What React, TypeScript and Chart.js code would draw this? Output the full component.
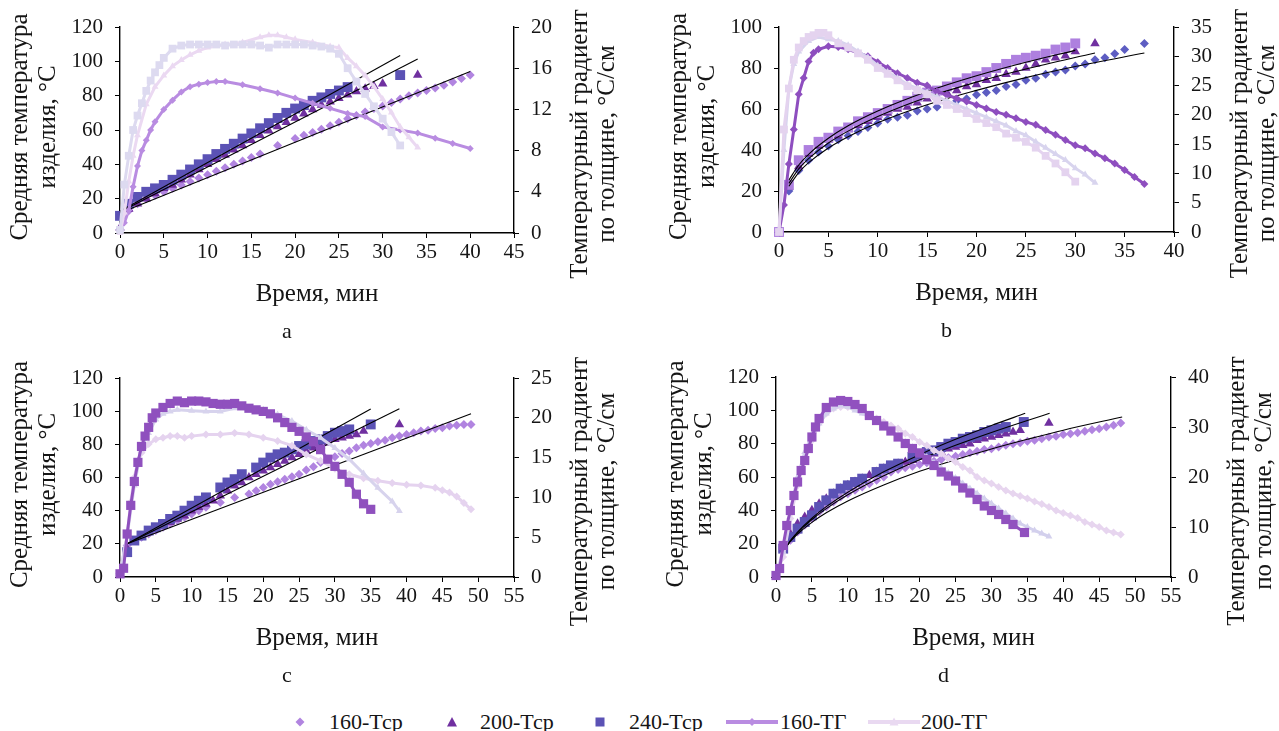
import React, { useEffect, useRef } from "react";
import { Chart, registerables } from "chart.js";

Chart.register(...registerables);

type Pts = [number, number][];

const FONT = "\"Liberation Serif\", \"DejaVu Serif\", serif";
const INK = "#151515";

// ---------- shared labels ----------
const leftTitle = ["Средняя температура", "изделия, °С"];
const rightTitle = ["Температурный градиент", "по толщине, °С/см"];
const xTitle = "Время, мин";
const seriesNames = ["160-Тср", "200-Тср", "240-Тср", "160-ТГ", "200-ТГ", "240-ТГ"];

// ---------- panel a ----------
const aTsr160: Pts = [[0,2],[1,13],[2,17],[3,20],[4,22],[5,24],[6,26],[7,28],[8,30],[9,32],[10,34],[11,36],[12,38],[13,40],[14,42],[15,44],[16,46],[18,51],[20,55],[21,57],[22,58.5],[23,60.5],[24,62.5],[25,64.5],[26,66.5],[27,68.5],[28,70.5],[29,72.5],[30,74],[31,76],[32,78],[33,80],[34,81.5],[35,83],[36,84.5],[37,86],[38,88],[39,90],[40,92]];
const aTsr200: Pts = [[0,3],[1,14],[2,17],[3,20],[4,23],[5,26],[6,28],[7,31],[8,34],[9,37],[10,40],[11,43],[12,45.5],[13,48.5],[14,51],[15,54],[16,57],[17,59.5],[18,62],[19,64.5],[20,67],[21,69.5],[22,72],[23,74.5],[24,76.5],[25,78.5],[26,80.5],[27,82.5],[28,84],[29,85.5],[30,87],[34,92]];
const aTsr240: Pts = [[0,10],[1,17],[2,21],[3,24],[4,26],[5,28],[6,31],[7,34],[8,37],[9,40],[10,43],[11,46],[12,49],[13,52],[14,55],[15,58],[16,61],[17,64],[18,67],[19,70],[20,72.5],[21,74.5],[22,77],[23,79],[24,81],[25,83],[26,85],[32,92]];
const aTg160: Pts = [[0,0.2],[0.5,1],[1,2.2],[1.5,4.5],[2,6.5],[2.5,8],[3,9],[3.5,10],[4,10.8],[5,12],[6,12.9],[7,13.7],[8,14.2],[9,14.45],[10,14.6],[11,14.7],[12,14.7],[14,14.4],[16,14],[18,13.6],[20,13.1],[22,12.6],[24,12.1],[26,11.6],[28,11.3],[30,10.3],[32,10],[34,9.7],[36,9.2],[38,8.7],[40,8.2]];
const aTg200: Pts = [[0,0],[0.5,2],[1,5],[1.5,7.5],[2,9.5],[3,12.5],[4,14.2],[5,15.3],[6,16.2],[7,16.8],[8,17.3],[9,17.7],[10,18],[12,18.3],[14,18.5],[16,19],[17,19.2],[18,19.2],[19,19],[20,18.8],[22,18.5],[24,18.1],[25,18],[26,17],[27,16.2],[28,15.3],[29,14.2],[30,13],[31,11.7],[32,10.3],[33,9.3],[34,8.3]];
const aTg240: Pts = [[0,0.3],[0.5,4.7],[1,7.5],[1.5,10],[2,11.4],[2.5,12.6],[3,13.8],[3.5,14.8],[4,15.6],[4.5,16.3],[5,17],[6,17.9],[7,18.2],[8,18.3],[9,18.3],[10,18.3],[11,18.3],[12,18.2],[13,18.3],[14,18.3],[15,18.3],[16,18.2],[17,18],[18,18.3],[19,18.3],[20,18.3],[21,18.3],[22,18.2],[23,18.1],[24,17.9],[25,17.4],[26,16],[27,14.7],[28,13.5],[29,12.3],[30,11.1],[31,9.8],[32,8.5]];
const aTrend160: Pts = [[0,11.7],[40,94.1]];
const aTrend200: Pts = [[0,12.2],[34,101.3]];
const aTrend240: Pts = [[0,12.7],[32,103.4]];

// ---------- panel b ----------
const bTsr160: Pts = [[1,20],[2,30],[3,35],[4,39],[5,42],[6,45],[7,47],[8,49],[9,51],[10,53],[11,55],[12,56],[13,57],[14,59],[15,60],[16,61],[17,63],[18,64],[19,65],[20,67],[21,68],[22,69],[23,71],[24,72],[25,74],[26,75],[27,77],[28,78],[29,79],[30,81],[31,82],[32,84],[33,85],[34,87],[35,89],[37,92]];
const bTsr200: Pts = [[1,22],[2,32],[3,38],[4,42],[5,45],[6,47],[7,50],[8,52],[9,54],[10,56],[11,58],[12,60],[13,61],[14,63],[15,65],[16,66],[17,68],[18,69],[19,71],[20,72],[21,74],[22,75],[23,77],[24,78],[25,80],[26,82],[27,84],[28,85],[29,86],[30,88],[32,92]];
const bTsr240: Pts = [[0,0],[1,23],[2,35],[3,40],[4,44],[5,46],[6,49],[7,51],[8,54],[9,56],[10,58],[11,60],[12,62],[13,64],[14,66],[15,68],[16,69],[17,71],[18,73],[19,75],[20,76],[21,78],[22,80],[23,82],[24,84],[25,85],[26,86],[27,87],[28,89],[29,90],[30,92]];
const bTg160: Pts = [[0,0],[0.5,4.6],[1,11.6],[1.5,17.5],[2,23.5],[2.5,26.3],[3,29.1],[3.5,30.6],[4,31.2],[5,31.7],[6,31.6],[7,31.2],[8,30.6],[9,30],[10,29],[11,28],[12,27.1],[13,26.3],[14,25.5],[15,25],[16,24],[17,23.4],[18,22.8],[19,22.3],[20,21.7],[21,21.1],[22,20.5],[23,20],[24,19.4],[25,18.8],[26,18.3],[27,17.4],[28,16.6],[29,15.7],[30,14.8],[31,14.3],[32,13.4],[33,12.6],[34,11.7],[35,10.6],[36,9.4],[37,8.2]];
const bTg200: Pts = [[0,0],[0.5,14],[1,24.5],[1.5,28.7],[2,30.8],[3,32.6],[4,33.3],[5,32.9],[6,32.6],[7,31.9],[8,30.8],[9,29.8],[10,28.4],[11,27.3],[12,26.3],[13,25.2],[14,24.5],[15,23.8],[16,23.1],[17,22.4],[18,21.7],[19,21],[20,20.3],[21,19.6],[22,18.9],[23,18.2],[24,17.2],[25,16.5],[26,15.4],[27,14.4],[28,13.3],[29,12.3],[30,10.9],[31,9.8],[32,8.4]];
const bTg240: Pts = [[0,0],[0.5,17.5],[1,24.5],[1.5,29.4],[2,31.5],[2.5,32.6],[3,33.3],[3.5,33.6],[4,34],[4.5,34],[5,33.6],[6,32.2],[7,31.5],[8,30.5],[9,29.4],[10,28],[11,27],[12,25.9],[13,24.9],[14,24.2],[15,23.5],[16,22.4],[17,21.7],[18,21],[19,20.3],[20,19.3],[21,18.6],[22,17.9],[23,16.8],[24,16.1],[25,15.4],[26,14.4],[27,13],[28,11.7],[29,10.2],[30,8.6]];
const bTrend160: Pts = [[1,22.3],[2,29],[3,33.8],[5,41],[7,46.5],[10,53.3],[15,62.1],[20,69.1],[25,75.3],[30,80.7],[37,87.3]];
const bTrend200: Pts = [[1,23.7],[2,30.8],[3,35.8],[5,43.4],[7,49.2],[10,56.3],[15,65.7],[20,73.1],[25,79.5],[32,87.3]];
const bTrend240: Pts = [[1,25.3],[2,32.7],[3,37.9],[5,45.7],[7,51.8],[10,59],[15,68.5],[20,76.2],[25,82.8],[30,88.6]];

// ---------- panel c ----------
const cTsr160: Pts = [[0,2],[1,19],[2,22],[3,24],[4,26],[5,28],[6,30],[7,32],[8,34],[9,36],[10,38],[11,40],[12,42],[14,45],[16,48],[18,50],[19,52],[20,54],[21,56],[22,57.5],[23,59],[24,60.5],[25,62],[26,64.5],[27,66.5],[28,69],[29,71],[30,72.5],[31,74.5],[32,76],[33,78],[34,79.5],[35,80.5],[36,81.5],[37,82.5],[38,84],[39,85],[40,86],[41,87],[42,88],[43,88.5],[44,89.5],[45,90],[46,91],[47,91.5],[48,92],[49,92]];
const cTsr200: Pts = [[1,17],[2,21],[3,24],[4,27],[5,29],[6,31],[7,33],[8,35],[9,37],[10,40],[11,42],[12,44],[13,46],[14,49],[15,52],[16,55],[17,57],[18,60],[19,62],[20,64],[21,66],[22,68],[23,70],[24,72],[25,74],[26,76],[27,78],[28,79],[29,81],[30,83],[31,84],[32,85],[33,86],[34,88],[39,92]];
const cTsr240: Pts = [[1,15],[2,22],[3,25],[4,28],[5,30],[6,32],[7,35],[8,37],[9,40],[10,43],[11,46],[12,48],[14,54],[15,57],[16,59],[17,62],[19,66],[20,69],[21,72],[22,74],[23,75],[24,77],[25,79],[26,80],[27,82],[28,83],[29,85],[30,87],[31,88],[32,89],[35,92]];
const cTg160: Pts = [[0,0.4],[1,5.2],[1.5,9.4],[2,12.5],[2.5,14.6],[3,15.6],[4,16.7],[5,17.3],[6,17.5],[7,17.7],[8,17.7],[9,17.5],[10,17.7],[12,17.9],[14,17.9],[16,18.1],[18,17.9],[20,17.5],[22,17.1],[24,16.5],[26,15.4],[28,14.6],[30,13.6],[32,12.9],[34,12.4],[36,12.1],[38,11.8],[40,11.6],[42,11.5],[44,11.2],[45,10.9],[46,10.6],[47,10.1],[48,9.3],[49,8.5]];
const cTg200: Pts = [[0,0.4],[1,5.2],[2,11.5],[3,16.2],[4,18.1],[5,19.8],[6,20.5],[7,20.8],[8,21],[10,20.9],[12,20.8],[14,20.8],[16,21.2],[18,21.2],[20,21],[22,20.4],[24,19.6],[26,18.5],[28,17.5],[30,16.2],[32,14.8],[34,13],[36,11.2],[38,9.5],[39,8.3]];
const cTg240: Pts = [[0,0.4],[0.5,1.1],[1,5.4],[1.5,9],[2,12],[2.5,14.4],[3,16.4],[3.5,17.7],[4,18.8],[4.5,20],[5,20.6],[6,21.3],[7,21.8],[8,22.1],[9,21.9],[10,22.1],[11,22.1],[12,22],[13,21.8],[14,21.7],[15,21.7],[16,21.8],[17,21.5],[18,21.2],[19,21],[20,20.8],[21,20.5],[22,20],[23,19.4],[24,18.8],[25,18.3],[26,17.6],[27,17],[28,16],[29,14.8],[30,13.9],[31,12.9],[32,11.9],[33,10.4],[34,9.2],[35,8.5]];
const cTrend160: Pts = [[1,20.1],[49,98.5]];
const cTrend200: Pts = [[1,20.1],[39,101.5]];
const cTrend240: Pts = [[1,20.1],[35,101.3]];

// ---------- panel d ----------
const dTsr160: Pts = [[1,15],[2,22],[3,27],[4,31],[5,35],[6,39],[7,42],[8,45],[9,48],[10,50],[11,52],[12,54],[13,56],[14,58],[15,60],[16,63],[17,64.5],[18,65.5],[19,66.5],[20,67.5],[21,68.5],[22,69.5],[23,70.5],[24,71.5],[25,72.5],[26,73.5],[27,74.5],[28,75.5],[29,76.5],[30,77],[31,78],[32,79],[33,80],[34,80.5],[35,81.5],[36,82],[37,83],[38,84],[39,84.5],[40,85.5],[41,86],[42,86.5],[43,87.5],[44,88.4],[45,89],[46,90],[47,91],[48,92.4]];
const dTsr200: Pts = [[1,17],[2,26],[3,32],[4,36],[5,40],[6,44],[7,47],[8,50],[9,53],[10,55],[11,57],[12,59],[13,61],[14,63],[15,65],[16,66],[17,68],[18,69],[19,70],[20,72],[21,73],[22,74],[23,75],[24,77],[25,78],[26,79],[27,80],[28,82],[29,83],[30,84],[31,85],[32,86],[33,87],[34,88],[38,92.4]];
const dTsr240: Pts = [[1,17],[2,24],[3,29],[4,33],[5,37],[6,42],[7,46],[8,50],[9,53],[10,55],[11,57],[12,59],[14,63],[15,65],[16,67],[17,68],[19,72],[20,74],[21,75],[22,76],[23,78],[24,80],[25,81],[26,83],[27,84],[28,85],[29,87],[30,88],[31,89],[32,90],[34.5,93]];
const dTg160: Pts = [[0,0.7],[1,4],[2,11.7],[3,18.3],[4,23.3],[5,27.3],[6,30.7],[7,32.7],[8,33.7],[9,34],[10,34],[11,33.7],[12,33],[13,32.3],[14,31.7],[15,31],[16,30.3],[17,29.7],[18,28.7],[19,28],[20,27],[21,26.3],[22,25.3],[23,24.7],[24,23.7],[25,23],[26,22],[27,21.3],[28,20],[29,19.3],[30,18.7],[31,18],[32,17.3],[33,16.7],[34,16.2],[35,15.7],[36,15.1],[37,14.6],[38,14],[39,13.3],[40,12.8],[41,12.3],[42,11.8],[43,11],[44,10.5],[45,10],[46,9.3],[47,8.9],[48,8.5]];
const dTg200: Pts = [[0,0.7],[1,5],[2,13.3],[3,20],[4,25],[5,28.3],[6,30.7],[7,32.7],[8,33.7],[9,34.3],[10,34],[11,33.3],[12,32.7],[13,32],[14,31],[15,30.3],[16,29.3],[17,28],[18,27],[19,26],[20,25],[21,24],[22,22.8],[23,21.8],[24,20.8],[25,19.8],[26,18.7],[27,17.7],[28,16.7],[29,15.7],[30,14.7],[31,13.7],[32,12.7],[33,11.7],[34,10.7],[35,10],[36,9.3],[37,8.7],[38,8.1]];
const dTg240: Pts = [[0,0.3],[0.5,1.7],[1,6.3],[1.5,10.3],[2,13.3],[2.5,16.3],[3,19],[3.5,21.3],[4,23.3],[4.5,25.7],[5,28],[5.5,30],[6,31.7],[7,33.9],[8,35],[9,35.3],[10,35.1],[11,34.5],[12,33.7],[13,32.3],[14,31.3],[15,30.2],[16,29.2],[17,28],[18,26.7],[19,25.7],[20,24.8],[21,23.5],[22,22.3],[23,21],[24,20.2],[25,19.2],[26,17.8],[27,16.8],[28,15.5],[29,14.2],[30,13.3],[31,12.5],[32,11.5],[33,10.5],[34.6,8.9]];
const dTrend160: Pts = [[1.25,17],[2,21.3],[3,25.8],[5,32.8],[7,38.5],[10,45.6],[15,55.2],[20,63.4],[25,70.4],[30,76.8],[35,82.6],[40,88.1],[48.2,96]];
const dTrend200: Pts = [[1.25,16.9],[2,21.6],[3,26.6],[5,34.5],[7,41],[10,49.3],[15,60.7],[20,70.4],[25,79],[30,86.7],[35,93.9],[38.1,98.2]];
const dTrend240: Pts = [[1.25,17],[2,21.8],[3,27],[5,35.3],[7,42.2],[10,50.9],[15,63.1],[20,73.4],[25,82.6],[30,90.9],[34.7,98.2]];

// ---------- axis ranges ----------
const aAxes = { xMax: 45, yMax: 120, yStep: 20, y1Max: 20, y1Step: 2 };
const bAxes = { xMax: 40, yMax: 100, yStep: 20, y1Max: 35, y1Step: 5 };
const cAxes = { xMax: 55, yMax: 120, yStep: 20, y1Max: 25, y1Step: 5 };
const dAxes = { xMax: 55, yMax: 120, yStep: 20, y1Max: 40, y1Step: 5 };

// ---------- colours ----------
const C_T160 = "#B184E0";
const C_T200 = "#7030A0";
const C_T240 = "#5B52B5";

const toXY = (p: Pts) => p.map(([x, y]) => ({ x, y }));

function scat(label: string, pts: Pts, style: string, color: string, r: number, order: number) {
  return {
    label, data: toXY(pts), yAxisID: "y", showLine: false, pointStyle: style,
    pointRadius: r, pointBackgroundColor: color, pointBorderColor: color, pointBorderWidth: 0,
    order, clip: false,
  };
}
function tgLine(label: string, pts: Pts, style: string, color: string, r: number, order: number) {
  return {
    label, data: toXY(pts), yAxisID: "y1", showLine: true, borderColor: color, borderWidth: 3,
    pointStyle: style, pointRadius: r, pointBackgroundColor: color, pointBorderColor: color,
    pointBorderWidth: 0, tension: 0, order, clip: false,
  };
}
function trend(pts: Pts, curved: boolean) {
  return {
    label: "trend", data: toXY(pts), yAxisID: "y", showLine: true, borderColor: "#000",
    borderWidth: 1.1, pointRadius: 0, tension: curved ? 0.4 : 0,
    cubicInterpolationMode: curved ? "monotone" : "default", order: 3, clip: false,
  };
}

const textPlugin = {
  id: "panelText",
  afterDraw(chart: any, _a: any, o: any) {
    const ca = chart.chartArea;
    const ctx = chart.ctx;
    const cx = (ca.left + ca.right) / 2;
    const cy = (ca.top + ca.bottom) / 2;
    ctx.save();
    ctx.fillStyle = INK;
    ctx.textAlign = "center";
    ctx.textBaseline = "middle";
    ctx.font = `${o.titleSize}px ${FONT}`;
    const rot = (lines: string[], x0: number, gap: number, y: number) => {
      lines.forEach((t, i) => {
        ctx.save();
        ctx.translate(x0 + i * gap, y);
        ctx.rotate(-Math.PI / 2);
        ctx.fillText(t, 0, 0);
        ctx.restore();
      });
    };
    rot(leftTitle, ca.left - 100, 28, cy - 3);
    rot(rightTitle, ca.right + 66, 27, cy + 14);
    ctx.fillText(xTitle, cx, ca.bottom + 61);
    ctx.font = `${o.letterSize}px ${FONT}`;
    ctx.fillText(o.letter, cx - 30, ca.bottom + 99);
    ctx.restore();
  },
};

type Spec = {
  W: number; H: number; left: number; right: number; top: number; bottom: number;
  axes: { xMax: number; yMax: number; yStep: number; y1Max: number; y1Step: number };
  datasets: any[]; letter: string; pageLeft: number; pageTop: number;
};

function buildConfig(s: Spec): any {
  const tickFont = { family: FONT, size: 21 };
  const grid = { drawOnChartArea: false, drawTicks: true, tickLength: 5, color: "#000", lineWidth: 1 };
  const border = { display: true, color: "#000", width: 1.4 };
  return {
    type: "scatter",
    data: { datasets: s.datasets },
    options: {
      animation: false,
      responsive: false,
      maintainAspectRatio: false,
      events: [],
      layout: { padding: { top: s.top, left: 0, right: 0, bottom: 0 } },
      plugins: {
        legend: { display: false },
        tooltip: { enabled: false },
        panelText: { titleSize: 25, letterSize: 22, letter: s.letter },
      },
      scales: {
        x: {
          type: "linear", position: "bottom", min: 0, max: s.axes.xMax,
          ticks: { stepSize: 5, font: tickFont, color: INK, padding: 2, maxRotation: 0, autoSkip: false },
          grid, border,
          afterFit: (sc: any) => { sc.height = s.H - s.bottom; },
        },
        y: {
          type: "linear", position: "left", min: 0, max: s.axes.yMax,
          ticks: { stepSize: s.axes.yStep, font: tickFont, color: INK, padding: 12 },
          grid, border,
          afterFit: (sc: any) => { sc.width = s.left; },
        },
        y1: {
          type: "linear", position: "right", min: 0, max: s.axes.y1Max,
          ticks: { stepSize: s.axes.y1Step, font: tickFont, color: INK, padding: 12 },
          grid, border,
          afterFit: (sc: any) => { sc.width = s.W - s.right; },
        },
      },
    },
    plugins: [textPlugin],
  };
}

const specA: Spec = {
  W: 640, H: 345, left: 120, right: 514, top: 27, bottom: 233, axes: aAxes, letter: "a", pageLeft: 0, pageTop: 0,
  datasets: [
    tgLine(seriesNames[5], aTg240, "rect", "#DDDAF0", 5.5, 0),
    tgLine(seriesNames[4], aTg200, "triangle", "#EBD9F2", 4, 1),
    tgLine(seriesNames[3], aTg160, "rectRot", "#B98CE1", 3.5, 2),
    trend(aTrend240, false), trend(aTrend200, false), trend(aTrend160, false),
    scat(seriesNames[2], aTsr240, "rect", C_T240, 7, 4),
    scat(seriesNames[1], aTsr200, "triangle", C_T200, 5.5, 5),
    scat(seriesNames[0], aTsr160, "rectRot", C_T160, 4.5, 6),
  ],
};
const specB: Spec = {
  W: 639, H: 345, left: 139, right: 534, top: 27, bottom: 232, axes: bAxes, letter: "b", pageLeft: 640, pageTop: 0,
  datasets: [
    tgLine(seriesNames[5], bTg240, "rect", "#E4D3EF", 5.5, 0),
    tgLine(seriesNames[4], bTg200, "triangle", "#D8D4EE", 4, 1),
    tgLine(seriesNames[3], bTg160, "rectRot", "#8E4EBF", 4, 2),
    trend(bTrend240, true), trend(bTrend200, true), trend(bTrend160, true),
    scat(seriesNames[2], bTsr240, "rect", "#AE80DF", 7, 4),
    scat(seriesNames[1], bTsr200, "triangle", C_T200, 5.5, 5),
    scat(seriesNames[0], bTsr160, "rectRot", "#5D5DC2", 4.5, 6),
  ],
};
const specC: Spec = {
  W: 640, H: 355, left: 120, right: 514, top: 33, bottom: 232, axes: cAxes, letter: "c", pageLeft: 0, pageTop: 345,
  datasets: [
    tgLine(seriesNames[5], cTg240, "rect", "#8F50BE", 6.5, 0),
    tgLine(seriesNames[4], cTg200, "triangle", "#D7D3ED", 4, 1),
    tgLine(seriesNames[3], cTg160, "rectRot", "#E5D3EF", 4, 2),
    trend(cTrend240, false), trend(cTrend200, false), trend(cTrend160, false),
    scat(seriesNames[2], cTsr240, "rect", C_T240, 7, 4),
    scat(seriesNames[1], cTsr200, "triangle", C_T200, 5.5, 5),
    scat(seriesNames[0], cTsr160, "rectRot", C_T160, 4.5, 6),
  ],
};
const specD: Spec = {
  W: 639, H: 355, left: 136, right: 531, top: 32, bottom: 232, axes: dAxes, letter: "d", pageLeft: 640, pageTop: 345,
  datasets: [
    tgLine(seriesNames[5], dTg240, "rect", "#9151BF", 6.5, 0),
    tgLine(seriesNames[4], dTg200, "triangle", "#D3D0ED", 4, 1),
    tgLine(seriesNames[3], dTg160, "rectRot", "#E7D5EF", 4, 2),
    trend(dTrend240, true), trend(dTrend200, true), trend(dTrend160, true),
    scat(seriesNames[2], dTsr240, "rect", C_T240, 7, 4),
    scat(seriesNames[1], dTsr200, "triangle", C_T200, 5.5, 5),
    scat(seriesNames[0], dTsr160, "rectRot", C_T160, 4.5, 6),
  ],
};

function Panel({ spec }: { spec: Spec }) {
  const ref = useRef<HTMLCanvasElement | null>(null);
  useEffect(() => {
    if (!ref.current) return;
    const chart = new Chart(ref.current, buildConfig(spec));
    return () => chart.destroy();
  }, [spec]);
  return (
    <canvas
      ref={ref}
      width={spec.W}
      height={spec.H}
      style={{ position: "absolute", left: spec.pageLeft, top: spec.pageTop, width: spec.W, height: spec.H }}
    />
  );
}

function Marker({ kind, color }: { kind: string; color: string }) {
  if (kind === "diamond")
    return <svg width={12} height={12}><polygon points="6,1.5 10.5,6 6,10.5 1.5,6" fill={color} /></svg>;
  if (kind === "triangle")
    return <svg width={12} height={12}><polygon points="6,1 11,10.5 1,10.5" fill={color} /></svg>;
  return <svg width={12} height={12}><rect x={1.5} y={1.5} width={9} height={9} fill={color} /></svg>;
}

function LineMarker({ color, kind }: { color: string; kind: string }) {
  return (
    <svg width={52} height={12}>
      <line x1={0} y1={6} x2={52} y2={6} stroke={color} strokeWidth={4} />
      {kind === "diamond" ? (
        <polygon points="26,2 30,6 26,10 22,6" fill={color} />
      ) : (
        <polygon points="26,1.5 30.5,9.5 21.5,9.5" fill={color} />
      )}
    </svg>
  );
}

const legendItems = [
  { label: seriesNames[0], kind: "diamond", color: C_T160, line: false, mx: 300, tx: 329 },
  { label: seriesNames[1], kind: "triangle", color: C_T200, line: false, mx: 452, tx: 480 },
  { label: seriesNames[2], kind: "square", color: C_T240, line: false, mx: 600, tx: 629 },
  { label: seriesNames[3], kind: "diamond", color: "#B98CE1", line: true, mx: 752, tx: 780 },
  { label: seriesNames[4], kind: "triangle", color: "#E9D9F1", line: true, mx: 894, tx: 921 },
];

export default function App() {
  return (
    <div style={{ position: "absolute", left: 0, top: 0, width: 1279, height: 731, background: "#fff", overflow: "hidden" }}>
      <Panel spec={specA} />
      <Panel spec={specB} />
      <Panel spec={specC} />
      <Panel spec={specD} />
      <div style={{ position: "absolute", left: 0, top: 708, width: 1279, height: 28, fontFamily: FONT, fontSize: 22, color: INK }}>
        {legendItems.map((it) => (
          <React.Fragment key={it.label}>
            <div style={{ position: "absolute", left: it.mx - (it.line ? 26 : 6), top: 8, height: 12, lineHeight: 0 }}>
              {it.line ? <LineMarker color={it.color} kind={it.kind} /> : <Marker kind={it.kind} color={it.color} />}
            </div>
            <div style={{ position: "absolute", left: it.tx, top: 0, lineHeight: "28px", whiteSpace: "nowrap" }}>{it.label}</div>
          </React.Fragment>
        ))}
      </div>
    </div>
  );
}
